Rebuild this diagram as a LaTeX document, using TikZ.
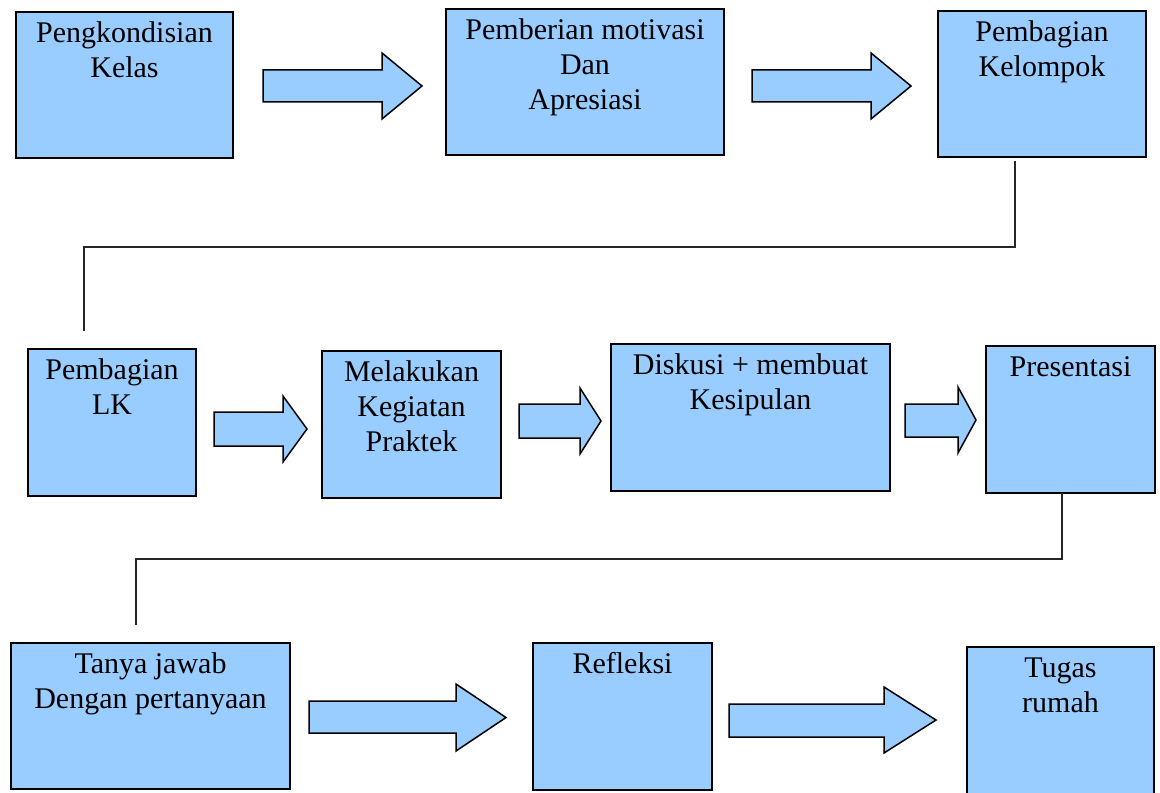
\documentclass[tikz,border=0pt]{standalone}
\usepackage{fontspec}
\setmainfont{Liberation Serif}
\definecolor{boxblue}{RGB}{153,204,255}
\tikzset{
  stepbox/.style={draw=black, fill=boxblue, line width=0.75pt, rectangle, inner sep=0pt, outer sep=0pt},
  lbl/.style={inner sep=0pt, outer sep=0pt, align=center, anchor=north, font=\fontsize{15}{17.5}\selectfont},
  arrowshape/.style={draw=black, fill=boxblue, line width=0.75pt, line join=miter},
  conn/.style={draw=black!85, line width=1pt}
}
% box: name, x1, y1, x2, y2, text
\newcommand\stepnode[6]{%
  \node[stepbox, minimum width={(#4-#2)*0.5pt}, minimum height={(#5-#3)*0.5pt}]
     (#1) at ({(#2+#4)/2},{(#3+#5)/2}) {};
  \node[lbl] (#1-t) at ({(#2+#4)/2},{#3+6}) {\strut #6};
}
% block arrow: x1, x2(tip), xh(head start), body y1, body y2, head y1, head y2
\newcommand\blockarrow[7]{%
  \draw[arrowshape] (#1,#4) -- (#3,#4) -- (#3,#6) -- (#2,{(#6+#7)/2}) -- (#3,#7) -- (#3,#5) -- (#1,#5) -- cycle;
}
\begin{document}
\begin{tikzpicture}[x=0.5pt,y=-0.5pt]
\useasboundingbox (0,0) rectangle (1160,792);
\clip (0,0) rectangle (1160,792);
\fill[white] (0,0) rectangle (1160,792);

% Row 1
\stepnode{b1}{16}{12}{233}{158}{Pengkondisian\\Kelas}
\stepnode{b2}{446}{9}{724}{155}{Pemberian motivasi\\Dan\\Apresiasi}
\stepnode{b3}{938}{11}{1146}{157}{Pembagian\\Kelompok}
\blockarrow{263}{422}{382}{70}{102}{53}{119}
\blockarrow{752}{911}{871}{70}{102}{53}{119}

% Row 2
\stepnode{b4}{28}{349}{196}{496}{Pembagian\\LK}
\stepnode{b5}{322}{351}{501}{498}{Melakukan\\Kegiatan\\Praktek}
\stepnode{b6}{611}{344}{890}{491}{Diskusi + membuat\\Kesipulan}
\stepnode{b7}{986}{346}{1155}{493}{Presentasi}
\blockarrow{214}{307}{283}{412}{446}{396}{462}
\blockarrow{519}{601}{580}{404}{438}{388}{454}
\blockarrow{905}{976}{958}{404}{437}{387}{453}

% Row 3
\stepnode{b8}{11}{643}{290}{789}{Tanya jawab\\Dengan pertanyaan}
\stepnode{b9}{533}{643}{712}{790}{Refleksi}
\stepnode{b10}{967}{647}{1154}{800}{Tugas\\rumah}
\blockarrow{309}{506}{456}{701}{733}{684}{751}
\blockarrow{729}{936}{884}{704}{737}{687}{753}

% Connectors
\coordinate (k1s) at (1015,161);
\coordinate (k1) at (1015,247);
\coordinate (k2) at (84,247);
\coordinate (k3) at (84,331);
\draw[conn] (k1s) -- (k1) -- (k2) -- (k3);

\coordinate (k4) at (1062,559);
\coordinate (k5) at (136,559);
\coordinate (k6) at (136,625);
\draw[conn] (b7.south -| k4) -- (k4) -- (k5) -- (k6);
\end{tikzpicture}
\end{document}
